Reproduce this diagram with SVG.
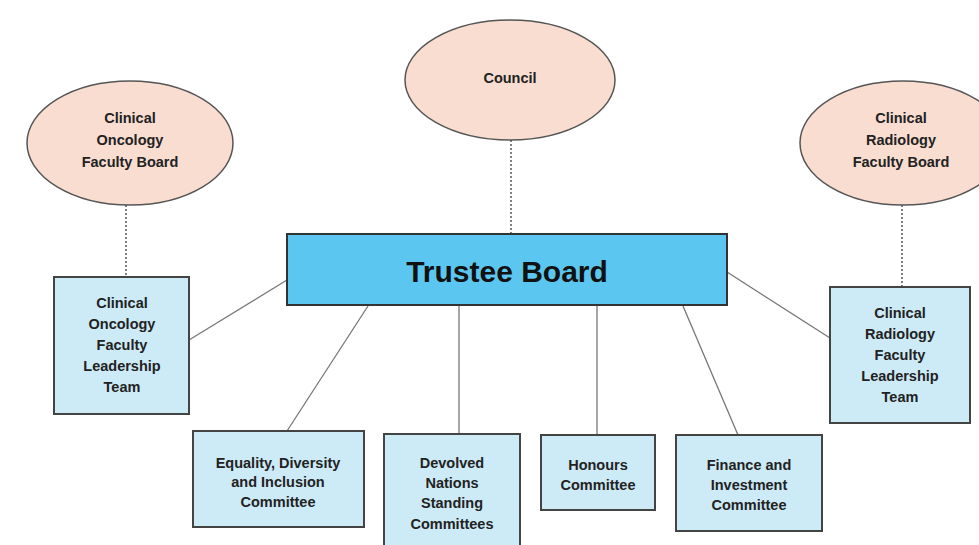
<svg xmlns="http://www.w3.org/2000/svg" width="979" height="545" viewBox="0 0 979 545">
<style>
.ell{fill:#F9DDD1;stroke:#555;stroke-width:1.5}
.box{fill:#CDEBF7;stroke:#444;stroke-width:2}
.main{fill:#5BC7F0;stroke:#333;stroke-width:2}
.t{font-family:"Liberation Sans",Arial,sans-serif;font-weight:bold;font-size:14.5px;fill:#222;text-anchor:middle}
.big{font-family:"Liberation Sans",Arial,sans-serif;font-weight:bold;font-size:30px;fill:#111;text-anchor:middle}
.solid{stroke:#777;stroke-width:1.3;fill:none}
.dot{stroke:#555;stroke-width:1.5;stroke-dasharray:2 2;fill:none}
</style>
<rect width="979" height="545" fill="#fff"/>
<g id="connectors">
<line class="dot" x1="511" y1="140" x2="511" y2="234"/>
<line class="dot" x1="126" y1="205" x2="126" y2="277"/>
<line class="dot" x1="902" y1="205" x2="902" y2="287"/>
<line class="solid" x1="189" y1="340" x2="287" y2="280"/>
<line class="solid" x1="727" y1="272" x2="830" y2="338"/>
<line class="solid" x1="368" y1="306" x2="287" y2="431"/>
<line class="solid" x1="459" y1="306" x2="459" y2="434"/>
<line class="solid" x1="597" y1="306" x2="597" y2="435"/>
<line class="solid" x1="683" y1="306" x2="738" y2="435"/>
</g>
<g id="council">
<ellipse class="ell" cx="510" cy="80" rx="105" ry="60"/>
<text class="t" x="510" y="83">Council</text>
</g>
<g id="oncology-board">
<ellipse class="ell" cx="130" cy="143" rx="103" ry="62"/>
<text class="t" x="130" y="123">Clinical</text>
<text class="t" x="130" y="145">Oncology</text>
<text class="t" x="130" y="167">Faculty Board</text>
</g>
<g id="radiology-board">
<ellipse class="ell" cx="903" cy="143" rx="103" ry="62"/>
<text class="t" x="901" y="123">Clinical</text>
<text class="t" x="901" y="145">Radiology</text>
<text class="t" x="901" y="167">Faculty Board</text>
</g>
<g id="trustee">
<rect class="main" x="287" y="234" width="440" height="71"/>
<text class="big" x="507" y="282">Trustee Board</text>
</g>
<g id="oncology-team">
<rect class="box" x="54" y="277" width="135" height="137"/>
<text class="t" x="122" y="308">Clinical</text>
<text class="t" x="122" y="329">Oncology</text>
<text class="t" x="122" y="350">Faculty</text>
<text class="t" x="122" y="371">Leadership</text>
<text class="t" x="122" y="392">Team</text>
</g>
<g id="radiology-team">
<rect class="box" x="830" y="287" width="140" height="136"/>
<text class="t" x="900" y="318">Clinical</text>
<text class="t" x="900" y="339">Radiology</text>
<text class="t" x="900" y="360">Faculty</text>
<text class="t" x="900" y="381">Leadership</text>
<text class="t" x="900" y="402">Team</text>
</g>
<g id="edi">
<rect class="box" x="193" y="431" width="171" height="96"/>
<text class="t" x="278" y="468">Equality, Diversity</text>
<text class="t" x="278" y="487">and Inclusion</text>
<text class="t" x="278" y="507">Committee</text>
</g>
<g id="devolved">
<rect class="box" x="384" y="434" width="136" height="115"/>
<text class="t" x="452" y="468">Devolved</text>
<text class="t" x="452" y="488">Nations</text>
<text class="t" x="452" y="508">Standing</text>
<text class="t" x="452" y="529">Committees</text>
</g>
<g id="honours">
<rect class="box" x="541" y="435" width="114" height="75"/>
<text class="t" x="598" y="470">Honours</text>
<text class="t" x="598" y="490">Committee</text>
</g>
<g id="finance">
<rect class="box" x="676" y="435" width="146" height="96"/>
<text class="t" x="749" y="470">Finance and</text>
<text class="t" x="749" y="490">Investment</text>
<text class="t" x="749" y="510">Committee</text>
</g>
</svg>
